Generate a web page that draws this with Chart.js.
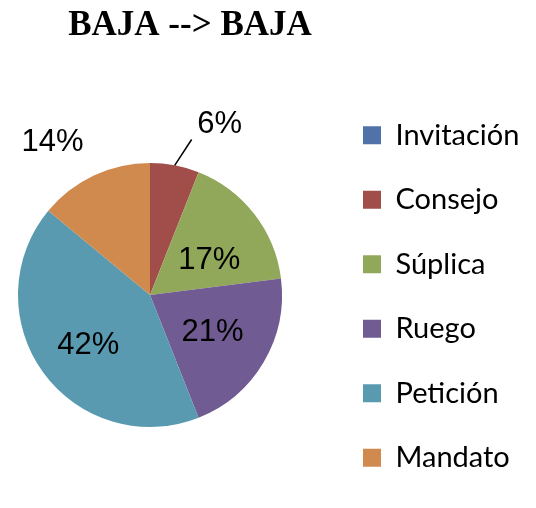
<!DOCTYPE html>
<html>
<head>
<meta charset="utf-8">
<script src="https://cdn.jsdelivr.net/npm/chart.js@4/dist/chart.umd.min.js"></script>
<style>
  body { margin: 0; background: #fff; }
  #wrap { width: 536px; height: 508px; }
</style>
</head>
<body>
<div id="wrap"><canvas id="myChart" width="536" height="508"></canvas></div>
<script>
// data
const chartTitle = 'BAJA --> BAJA';
const categories = ['Invitación', 'Consejo', 'Súplica', 'Ruego', 'Petición', 'Mandato'];
const percentages = [0, 6, 17, 21, 42, 14];

// styles
const sliceColors = ['#4f72a9', '#a14e4b', '#91a85a', '#705b92', '#5a9ab0', '#d08a4e'];
// where each percentage goes: fraction of radius along the slice middle + nudge
const labelPlacement = [
  null,
  { r: 1.4, dx: 35, dy: 11, leader: true },
  { r: 0.55, dx: 2, dy: 10 },
  { r: 0.55, dx: 0, dy: 0 },
  { r: 0.55, dx: -3, dy: 8 },
  { r: 1.38, dx: -20, dy: 12 }
];
const pieCenterX = 150;
const pieRadius = 132;
const legendBoxX = 363;

const placeBoxes = {
  id: 'placeBoxes',
  afterLayout(chart) {
    const area = chart.chartArea;
    area.left = pieCenterX - pieRadius;
    area.right = pieCenterX + pieRadius;
    area.width = area.right - area.left;
    const lg = chart.legend;
    const w = lg.width;
    lg.left = legendBoxX - lg.options.labels.padding;
    lg.right = lg.left + w;
    lg.top += 1.5;
    lg.bottom += 1.5;
  }
};

const textPlugin = {
  id: 'textPlugin',
  afterDatasetsDraw(chart) {
    const ctx = chart.ctx;
    ctx.save();
    ctx.fillStyle = '#000';
    ctx.textAlign = 'center';
    ctx.textBaseline = 'middle';
    ctx.font = 'bold 35px "Liberation Serif"';
    ctx.fillText(chartTitle, 190, 26);

    ctx.font = '31px "Liberation Sans"';
    const meta = chart.getDatasetMeta(0);
    meta.data.forEach((arc, i) => {
      const p = labelPlacement[i];
      if (!p || !percentages[i]) return;
      const { x, y, startAngle, endAngle, outerRadius } = arc.getProps(['x', 'y', 'startAngle', 'endAngle', 'outerRadius'], true);
      const mid = (startAngle + endAngle) / 2;
      const lx = x + Math.cos(mid) * outerRadius * p.r + p.dx;
      const ly = y + Math.sin(mid) * outerRadius * p.r + p.dy;
      if (p.leader) {
        ctx.strokeStyle = '#000';
        ctx.lineWidth = 1.5;
        ctx.beginPath();
        ctx.moveTo(x + Math.cos(mid) * outerRadius, y + Math.sin(mid) * outerRadius);
        ctx.lineTo(lx - 28, ly + 15);
        ctx.stroke();
      }
      ctx.fillText(percentages[i] + '%', lx, ly);
    });
    ctx.restore();
  }
};

const ctx = document.getElementById('myChart').getContext('2d');
const chart = new Chart(ctx, {
  type: 'pie',
  data: {
    labels: categories,
    datasets: [{
      data: percentages,
      backgroundColor: sliceColors,
      borderWidth: 0,
      radius: pieRadius,
      clip: false
    }]
  },
  options: {
    responsive: false,
    animation: false,
    layout: { padding: { top: 82, bottom: 0, left: 0, right: 0 } },
    plugins: {
      tooltip: { enabled: false },
      legend: {
        position: 'right',
        labels: {
          boxWidth: 18,
          boxHeight: 18,
          padding: 35.5,
          color: '#000',
          font: { family: 'Lato', size: 29 }
        }
      }
    }
  },
  plugins: [placeBoxes, textPlugin]
});
</script>
</body>
</html>
